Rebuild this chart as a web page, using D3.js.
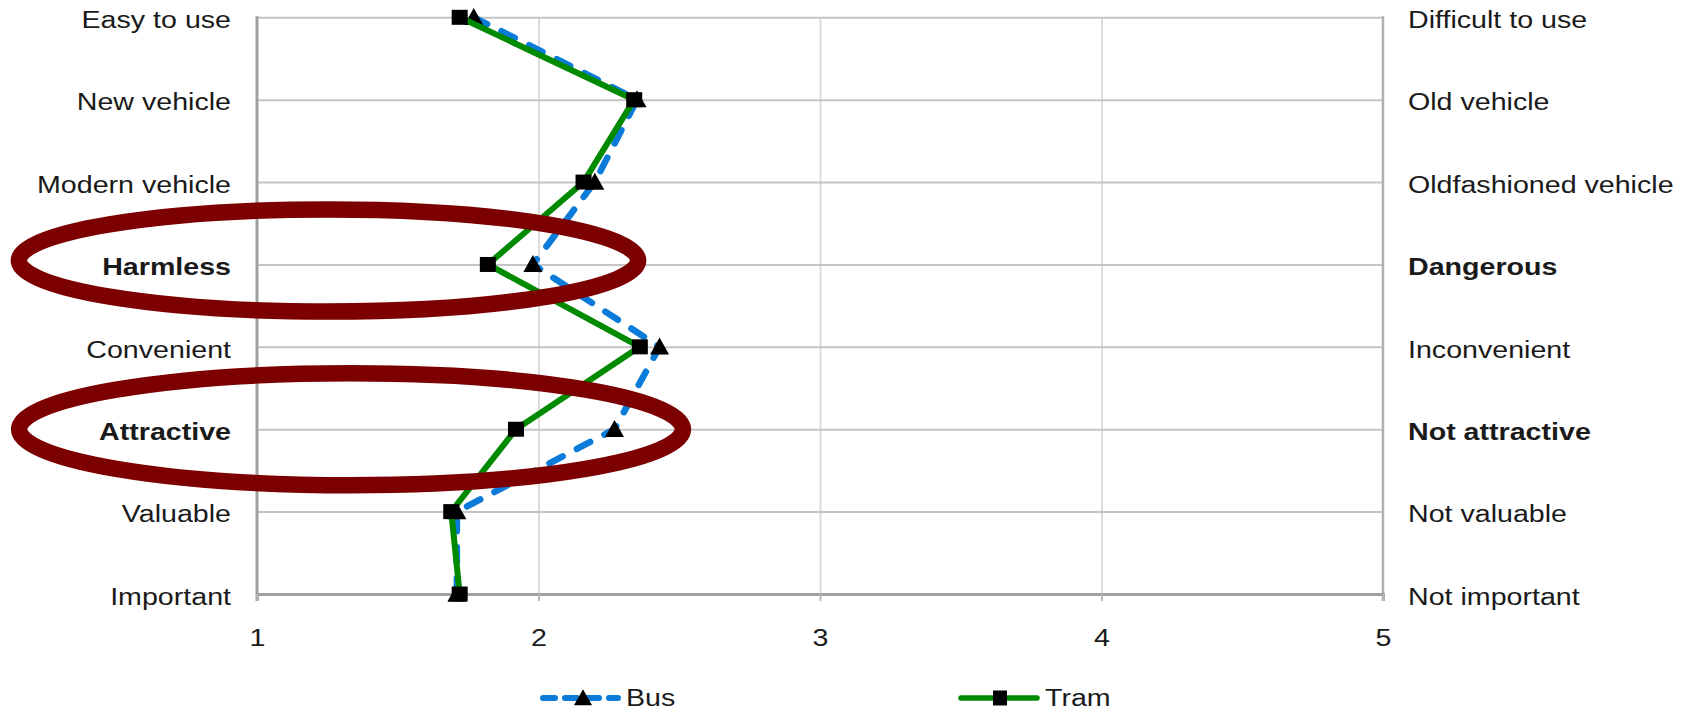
<!DOCTYPE html>
<html>
<head>
<meta charset="utf-8">
<script src="https://cdn.jsdelivr.net/npm/d3@7"></script>
<style>
  html, body { margin: 0; padding: 0; background: #fff; }
  svg { display: block; }
  text { font-family: "Liberation Sans", Arial, sans-serif; fill: #1a1a1a; }
</style>
</head>
<body>
<svg id="chart" width="1684" height="714"></svg>
<script>
// ---- data ----
const leftLabels = ["Easy to use", "New vehicle", "Modern vehicle", "Harmless", "Convenient", "Attractive", "Valuable", "Important"];
const rightLabels = ["Difficult to use", "Old vehicle", "Oldfashioned vehicle", "Dangerous", "Inconvenient", "Not attractive", "Not valuable", "Not important"];
const highlighted = ["Harmless", "Attractive"];
const busValues  = [1.77, 2.35, 2.20, 1.98, 2.43, 2.27, 1.71, 1.71];
const tramValues = [1.72, 2.34, 2.16, 1.82, 2.36, 1.92, 1.69, 1.72];
const xTicks = [1, 2, 3, 4, 5];
const seriesNames = ["Bus", "Tram"];

(function () {
// ---- layout ----
const svg = d3.select("#chart");
const pLeft = 257, pRight = 1383, pTop = 17.3, pBottom = 594;
const sx = 1.168; // horizontal text stretch seen in the reference
const fs = 24.5;

const x = d3.scaleLinear().domain([1, 5]).range([pLeft, pRight]);
const y = d3.scalePoint().domain(leftLabels).range([pTop, pBottom]);

// vertical gridlines
svg.append("g")
  .attr("transform", `translate(0,${pBottom})`)
  .call(d3.axisBottom(x).tickValues(xTicks.slice(1, -1)).tickSize(-(pBottom - pTop)).tickFormat(""))
  .call(g => g.select(".domain").remove())
  .call(g => g.selectAll("line").attr("stroke", "#dcdcdc").attr("stroke-width", 2));

// horizontal gridlines
svg.append("g")
  .attr("transform", `translate(${pLeft},0)`)
  .call(d3.axisRight(y).tickSize(pRight - pLeft).tickFormat(""))
  .call(g => g.select(".domain").remove())
  .call(g => g.selectAll("line").attr("stroke", "#c4c4c4").attr("stroke-width", 2));

// right border
svg.append("line")
  .attr("x1", pRight).attr("x2", pRight).attr("y1", pTop - 1).attr("y2", pBottom + 7)
  .attr("stroke", "#b0b0b0").attr("stroke-width", 2.5);

// left axis
svg.append("line")
  .attr("x1", pLeft).attr("x2", pLeft).attr("y1", pTop - 1).attr("y2", pBottom + 7)
  .attr("stroke", "#a0a0a0").attr("stroke-width", 3);

// bottom axis
const xAxis = svg.append("g")
  .attr("transform", `translate(0,${pBottom})`)
  .call(d3.axisBottom(x).tickValues(xTicks).tickSize(7).tickFormat(d3.format("d")));
xAxis.select(".domain").attr("stroke", "#a0a0a0").attr("stroke-width", 3);
xAxis.selectAll(".tick line").attr("stroke", "#b8b8b8").attr("stroke-width", 2);
xAxis.selectAll(".tick text")
  .attr("font-size", fs)
  .attr("fill", "#1a1a1a")
  .attr("font-family", "'Liberation Sans', Arial, sans-serif")
  .attr("dy", null)
  .attr("y", 0)
  .attr("dominant-baseline", "central")
  .attr("transform", `translate(0,44) scale(${sx},1)`);

// category labels
const labelG = svg.append("g");
leftLabels.forEach((lab, i) => {
  labelG.append("text")
    .attr("transform", `translate(${pLeft - 26},${y(lab) + 2.5}) scale(${sx},1)`)
    .attr("text-anchor", "end")
    .attr("dominant-baseline", "central")
    .attr("font-size", fs)
    .attr("font-weight", highlighted.includes(lab) ? "bold" : "normal")
    .text(lab);
  labelG.append("text")
    .attr("transform", `translate(${pRight + 25},${y(lab) + 2.5}) scale(${sx},1)`)
    .attr("text-anchor", "start")
    .attr("dominant-baseline", "central")
    .attr("font-size", fs)
    .attr("font-weight", highlighted.includes(lab) ? "bold" : "normal")
    .text(rightLabels[i]);
});

// series
const line = d3.line().x(d => x(d.v)).y(d => y(d.c));
const busData = leftLabels.map((c, i) => ({ c, v: busValues[i] }));
const tramData = leftLabels.map((c, i) => ({ c, v: tramValues[i] }));

const triPath = (cx, cy, w, h) => `M${cx},${cy - h * 0.55}L${cx + w / 2},${cy + h * 0.45}L${cx - w / 2},${cy + h * 0.45}Z`;

svg.append("path").datum(busData)
  .attr("d", line)
  .attr("fill", "none")
  .attr("stroke", "#0a7bd8")
  .attr("stroke-width", 6.5)
  .attr("stroke-dasharray", "15,16")
  .attr("stroke-linecap", "round");
svg.append("g").selectAll("path").data(busData).join("path")
  .attr("d", d => triPath(x(d.v), y(d.c), 19, 17))
  .attr("fill", "#000");

svg.append("path").datum(tramData)
  .attr("d", line)
  .attr("fill", "none")
  .attr("stroke", "#008a00")
  .attr("stroke-width", 6)
  .attr("stroke-linejoin", "round");
svg.append("g").selectAll("rect").data(tramData).join("rect")
  .attr("x", d => x(d.v) - 8).attr("y", d => y(d.c) - 7.5)
  .attr("width", 16).attr("height", 15)
  .attr("fill", "#000");

// highlight ellipses
const step = y.step();
const ellipses = [
  { row: "Harmless", cx: 1.254, rx: 1.100, ry: 0.62, dy: -4 },
  { row: "Attractive", cx: 1.334, rx: 1.179, ry: 0.68, dy: 0 }
];
svg.append("g").selectAll("ellipse").data(ellipses).join("ellipse")
  .attr("cx", d => x(d.cx))
  .attr("cy", d => y(d.row) + d.dy)
  .attr("rx", d => x(1 + d.rx) - x(1))
  .attr("ry", d => d.ry * step)
  .attr("fill", "none")
  .attr("stroke", "#7d0000")
  .attr("stroke-width", 16.5);

// legend
const legY = 698;
const leg = svg.append("g");
const legItems = [
  { name: seriesNames[0], x0: 543, x1: 618, mx: 583, text: 626 },
  { name: seriesNames[1], x0: 961, x1: 1037, mx: 1000, text: 1045 }
];
leg.append("line").attr("x1", legItems[0].x0).attr("x2", legItems[0].x1).attr("y1", legY).attr("y2", legY)
  .attr("stroke", "#0a7bd8").attr("stroke-width", 6).attr("stroke-dasharray", "12,10").attr("stroke-linecap", "round");
leg.append("path").attr("d", triPath(legItems[0].mx, legY, 18, 16)).attr("fill", "#000");
leg.append("line").attr("x1", legItems[1].x0).attr("x2", legItems[1].x1).attr("y1", legY).attr("y2", legY)
  .attr("stroke", "#008a00").attr("stroke-width", 5.5).attr("stroke-linecap", "round");
leg.append("rect").attr("x", legItems[1].mx - 7).attr("y", legY - 7.5).attr("width", 14).attr("height", 15).attr("fill", "#000");
legItems.forEach(it => {
  leg.append("text")
    .attr("transform", `translate(${it.text},${legY}) scale(${sx},1)`)
    .attr("dominant-baseline", "central")
    .attr("font-size", fs)
    .text(it.name);
});
})();
</script>
</body>
</html>
